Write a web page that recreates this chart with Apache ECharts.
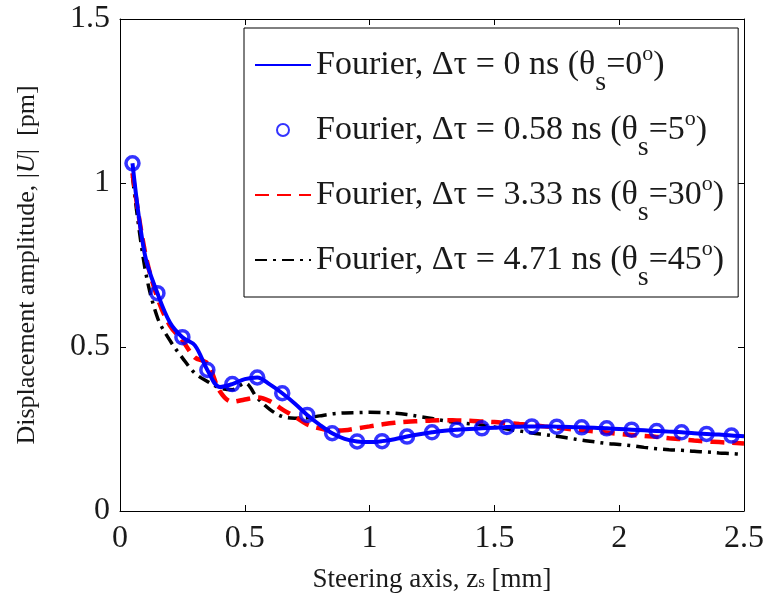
<!DOCTYPE html>
<html>
<head>
<meta charset="utf-8">
<script src="https://cdn.jsdelivr.net/npm/echarts@6/dist/echarts.min.js"></script>
<style>
  html, body { margin: 0; padding: 0; background: #fff; }
  #chart { width: 767px; height: 601px; }
</style>
</head>
<body>
<div id="chart"></div>
<script>
// Steering positions (mm) of the densely sampled Fourier curves
const zFine = [0.05, 0.10, 0.15, 0.20, 0.25, 0.30, 0.35, 0.40, 0.45, 0.50,
  0.55, 0.60, 0.65, 0.70, 0.75, 0.80, 0.85, 0.90, 0.95, 1.00,
  1.05, 1.10, 1.15, 1.20, 1.25, 1.30, 1.35, 1.40, 1.45, 1.50,
  1.55, 1.60, 1.65, 1.70, 1.75, 1.80, 1.85, 1.90, 1.95, 2.00,
  2.05, 2.10, 2.15, 2.20, 2.25, 2.30, 2.35, 2.40, 2.45, 2.50];

// Δτ = 0 ns (θs = 0°)
const amp0 = [1.06, 0.78, 0.664, 0.575, 0.53, 0.505, 0.43, 0.378, 0.387, 0.402,
  0.407, 0.386, 0.359, 0.328, 0.293, 0.263, 0.237, 0.220, 0.212, 0.210,
  0.213, 0.219, 0.227, 0.234, 0.240, 0.245, 0.248, 0.250, 0.252, 0.254,
  0.256, 0.257, 0.258, 0.258, 0.257, 0.256, 0.255, 0.254, 0.252, 0.250,
  0.248, 0.246, 0.244, 0.242, 0.240, 0.237, 0.235, 0.233, 0.230, 0.228];

// Δτ = 3.33 ns (θs = 30°)
const amp30 = [1.03, 0.79, 0.65, 0.565, 0.52, 0.468, 0.45, 0.365, 0.333, 0.34,
  0.346, 0.335, 0.31, 0.288, 0.264, 0.252, 0.245, 0.246, 0.252, 0.258,
  0.264, 0.269, 0.272, 0.274, 0.276, 0.277, 0.276, 0.275, 0.273, 0.271,
  0.268, 0.265, 0.262, 0.258, 0.254, 0.250, 0.246, 0.243, 0.239, 0.235,
  0.232, 0.229, 0.226, 0.222, 0.219, 0.215, 0.212, 0.210, 0.208, 0.206];

// Δτ = 4.71 ns (θs = 45°)
const amp45 = [1.02, 0.74, 0.59, 0.52, 0.467, 0.42, 0.395, 0.375, 0.37, 0.39,
  0.345, 0.31, 0.288, 0.283, 0.284, 0.29, 0.296, 0.299, 0.30, 0.301,
  0.30, 0.298, 0.294, 0.288, 0.282, 0.275, 0.27, 0.266, 0.262, 0.256,
  0.25, 0.244, 0.238, 0.233, 0.228, 0.222, 0.216, 0.211, 0.206, 0.203,
  0.199, 0.194, 0.19, 0.187, 0.185, 0.182, 0.18, 0.177, 0.175, 0.172];

// Δτ = 0.58 ns (θs = 5°), sampled every 0.1 mm
const zCoarse = [0.05, 0.15, 0.25, 0.35, 0.45, 0.55, 0.65, 0.75, 0.85, 0.95,
  1.05, 1.15, 1.25, 1.35, 1.45, 1.55, 1.65, 1.75, 1.85, 1.95,
  2.05, 2.15, 2.25, 2.35, 2.45];
const amp5 = [1.06, 0.664, 0.53, 0.43, 0.387, 0.407, 0.359, 0.293, 0.237, 0.212,
  0.213, 0.227, 0.240, 0.248, 0.252, 0.256, 0.258, 0.257, 0.255, 0.252,
  0.248, 0.244, 0.240, 0.235, 0.230];

// Legend entries: [delay, steering angle]
const delays = ['0', '0.58', '3.33', '4.71'];
const angles = ['0', '5', '30', '45'];
const seriesNames = delays.map(function (d, i) { return 'Fourier ' + d + ' ' + angles[i]; });

const xTicks = [0, 0.5, 1, 1.5, 2, 2.5];
const yTicks = [0, 0.5, 1, 1.5];

function pairs(xs, ys) { return xs.map(function (x, i) { return [x, ys[i]]; }); }

const FONT = 'Liberation Serif';
const INK = '#1a1a1a';

const chart = echarts.init(document.getElementById('chart'), null, { renderer: 'canvas' });

const legendRich = {
  m: { fontFamily: FONT, fontSize: 34, color: INK },
  s: { fontFamily: FONT, fontSize: 28, color: INK, padding: [36, 0, 0, 0] },
  o: { fontFamily: FONT, fontSize: 22, color: INK, padding: [0, 0, 22, 0] }
};

const axisBase = {
  type: 'value',
  axisLine: { show: true, onZero: false, lineStyle: { color: '#000', width: 1 } },
  axisTick: { show: true, inside: true, length: 6, lineStyle: { color: '#000' } },
  splitLine: { show: false }
};

// Line series get a plain line in the legend, without the centre dot
const hiddenDot = { opacity: 0 };

chart.setOption({
  animation: false,
  backgroundColor: '#fff',
  grid: { left: 120, right: 21, top: 19, bottom: 90 },
  xAxis: [
    Object.assign({}, axisBase, {
      min: xTicks[0], max: xTicks[xTicks.length - 1], interval: 0.5,
      position: 'bottom',
      axisLabel: { margin: 12, fontFamily: FONT, fontSize: 32, color: INK },
      name: '{t|Steering axis, z}{sub|s}{t| [mm]}',
      nameLocation: 'middle', nameGap: 55,
      nameTextStyle: {
        rich: {
          t: { fontFamily: FONT, fontSize: 27, color: INK },
          sub: { fontFamily: FONT, fontSize: 17, color: INK, padding: [6, 0, 0, 0] }
        }
      }
    }),
    Object.assign({}, axisBase, {
      min: xTicks[0], max: xTicks[xTicks.length - 1], interval: 0.5,
      position: 'top', axisLabel: { show: false }
    })
  ],
  yAxis: [
    Object.assign({}, axisBase, {
      min: yTicks[0], max: yTicks[yTicks.length - 1], interval: 0.5,
      position: 'left',
      axisLabel: { margin: 10, fontFamily: FONT, fontSize: 32, color: INK },
      name: '{t|Displacement amplitude, |}{i|U}{t||  [pm]}',
      nameLocation: 'middle', nameGap: 80,
      nameTextStyle: {
        rich: {
          t: { fontFamily: FONT, fontSize: 26, color: INK },
          i: { fontFamily: FONT, fontSize: 26, color: INK, fontStyle: 'italic' }
        }
      }
    }),
    Object.assign({}, axisBase, {
      min: yTicks[0], max: yTicks[yTicks.length - 1], interval: 0.5,
      position: 'right', axisLabel: { show: false }
    })
  ],
  legend: {
    orient: 'vertical',
    left: 244, top: 28,
    padding: [15, 14, 5, 10],
    itemGap: 11,
    itemWidth: 56, itemHeight: 12,
    borderColor: '#000', borderWidth: 1, borderRadius: 0,
    backgroundColor: '#fff',
    data: [
      { name: seriesNames[0], itemStyle: hiddenDot },
      { name: seriesNames[1] },
      { name: seriesNames[2], itemStyle: hiddenDot },
      { name: seriesNames[3], itemStyle: hiddenDot }
    ],
    textStyle: { rich: legendRich },
    formatter: function (name) {
      const i = seriesNames.indexOf(name);
      return '{m|Fourier, Δτ = ' + delays[i] + ' ns (θ}{s|s}{m|=' + angles[i] + '}{o|o}{m|)}';
    }
  },
  series: [
    {
      name: seriesNames[0], type: 'line', smooth: 0.35, symbol: 'none',
      data: pairs(zFine, amp0),
      lineStyle: { color: '#0000ff', width: 4 }, itemStyle: { color: '#0000ff' }, z: 4
    },
    {
      name: seriesNames[1], type: 'scatter', symbol: 'circle', symbolSize: 13,
      data: pairs(zCoarse, amp5),
      itemStyle: { color: 'rgba(255,255,255,0)', borderColor: '#0000ff', borderWidth: 3.5 }, z: 5
    },
    {
      name: seriesNames[2], type: 'line', smooth: 0.35, symbol: 'none',
      data: pairs(zFine, amp30),
      lineStyle: { color: '#ff0000', width: 4.5, type: [14, 8] }, itemStyle: { color: '#ff0000' }, z: 3
    },
    {
      name: seriesNames[3], type: 'line', smooth: 0.35, symbol: 'none',
      data: pairs(zFine, amp45),
      lineStyle: { color: '#000000', width: 3.5, type: [12, 6, 3, 6] }, itemStyle: { color: '#000000' }, z: 2
    }
  ]
});
</script>
</body>
</html>
